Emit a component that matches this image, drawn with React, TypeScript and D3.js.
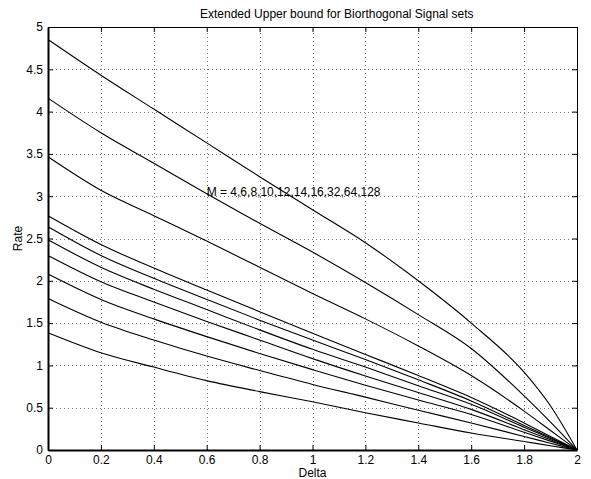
import React, { useEffect, useRef } from "react";
import * as d3 from "d3";

const delta = [0, 0.2, 0.4, 0.6, 0.8, 1.0, 1.2, 1.4, 1.6, 1.8, 1.9, 2.0];

const rateM4 = [1.386, 1.15, 0.98, 0.82, 0.69, 0.57, 0.44, 0.32, 0.2, 0.1, 0.05, 0];
const rateM6 = [1.79, 1.51, 1.3, 1.11, 0.94, 0.775, 0.625, 0.47, 0.32, 0.16, 0.08, 0];
const rateM8 = [2.08, 1.78, 1.55, 1.34, 1.14, 0.95, 0.765, 0.59, 0.42, 0.21, 0.105, 0];
const rateM10 = [2.3, 1.99, 1.75, 1.52, 1.3, 1.08, 0.875, 0.68, 0.48, 0.24, 0.12, 0];
const rateM12 = [2.485, 2.16, 1.9, 1.66, 1.42, 1.19, 0.98, 0.76, 0.54, 0.27, 0.135, 0];
const rateM14 = [2.64, 2.3, 2.03, 1.78, 1.535, 1.3, 1.07, 0.83, 0.58, 0.29, 0.145, 0];
const rateM16 = [2.77, 2.43, 2.15, 1.89, 1.635, 1.38, 1.13, 0.88, 0.62, 0.32, 0.16, 0];
const rateM32 = [3.466, 3.07, 2.77, 2.47, 2.16, 1.85, 1.55, 1.23, 0.88, 0.46, 0.23, 0];
const rateM64 = [4.159, 3.75, 3.39, 3.03, 2.68, 2.34, 1.98, 1.6, 1.2, 0.64, 0.33, 0];
const rateM128 = [4.852, 4.43, 4.03, 3.63, 3.23, 2.84, 2.45, 2.0, 1.5, 0.92, 0.52, 0];

const series = [rateM4, rateM6, rateM8, rateM10, rateM12, rateM14, rateM16, rateM32, rateM64, rateM128];

const xTicks = [0, 0.2, 0.4, 0.6, 0.8, 1, 1.2, 1.4, 1.6, 1.8, 2];
const yTicks = [0, 0.5, 1, 1.5, 2, 2.5, 3, 3.5, 4, 4.5, 5];

const titleText = "Extended Upper bound for Biorthogonal Signal sets";
const noteText = "M = 4,6,8,10,12,14,16,32,64,128";

export default function App() {
  const svgRef = useRef<SVGSVGElement>(null);

  useEffect(() => {
    const width = 591;
    const height = 479;
    const margin = { top: 27, right: 14, bottom: 29, left: 48 };
    const font = "'Liberation Sans', Arial, Helvetica, sans-serif";

    const svg = d3.select(svgRef.current);
    svg.selectAll("*").remove();
    svg.attr("width", width).attr("height", height);

    svg.append("rect").attr("width", width).attr("height", height).attr("fill", "#fff");

    const x = d3.scaleLinear().domain([0, 2]).range([margin.left, width - margin.right]);
    const y = d3.scaleLinear().domain([0, 5]).range([height - margin.bottom, margin.top]);

    // dotted grid
    const grid = svg.append("g").attr("stroke", "#777").attr("stroke-dasharray", "1,3");
    grid
      .selectAll("line.gx")
      .data(xTicks.slice(1, -1))
      .enter()
      .append("line")
      .attr("x1", (d) => Math.round(x(d)) + 0.5)
      .attr("x2", (d) => Math.round(x(d)) + 0.5)
      .attr("y1", y(0))
      .attr("y2", y(5));
    grid
      .selectAll("line.gy")
      .data(yTicks.slice(1, -1))
      .enter()
      .append("line")
      .attr("y1", (d) => Math.round(y(d)) + 0.5)
      .attr("y2", (d) => Math.round(y(d)) + 0.5)
      .attr("x1", x(0))
      .attr("x2", x(2));

    // curves
    const line = d3
      .line<number>()
      .x((d, i) => x(delta[i]))
      .y((d) => y(d))
      .curve(d3.curveMonotoneX);

    svg
      .append("g")
      .selectAll("path")
      .data(series)
      .enter()
      .append("path")
      .attr("d", (d) => line(d))
      .attr("fill", "none")
      .attr("stroke", "#000")
      .attr("stroke-width", 1.1);

    // axes, ticks pointing inward
    const fmt = (d: d3.NumberValue) => String(d);
    const styleAxis = (g: d3.Selection<SVGGElement, unknown, null, undefined>) => {
      g.selectAll("path.domain").attr("stroke", "#000");
      g.selectAll(".tick line").attr("stroke", "#000");
      g.selectAll("text")
        .attr("fill", "#000")
        .style("font-family", font)
        .style("font-size", "12px");
    };

    svg
      .append("g")
      .attr("transform", `translate(0,${y(0)})`)
      .call(d3.axisBottom(x).tickValues(xTicks).tickFormat(fmt).tickSize(-5).tickSizeOuter(0).tickPadding(5))
      .call(styleAxis)
      .select("path.domain")
      .attr("stroke-width", 2);

    svg
      .append("g")
      .attr("transform", `translate(${x(0)},0)`)
      .call(d3.axisLeft(y).tickValues(yTicks).tickFormat(fmt).tickSize(-5).tickSizeOuter(0).tickPadding(5))
      .call(styleAxis)
      .select("path.domain")
      .attr("stroke-width", 2);

    svg
      .append("g")
      .attr("transform", `translate(0,${y(5)})`)
      .call(d3.axisTop(x).tickValues(xTicks).tickFormat(() => "").tickSize(-5).tickSizeOuter(0))
      .call(styleAxis);

    svg
      .append("g")
      .attr("transform", `translate(${x(2)},0)`)
      .call(d3.axisRight(y).tickValues(yTicks).tickFormat(() => "").tickSize(-5).tickSizeOuter(0))
      .call(styleAxis);

    // title and labels
    svg
      .append("text")
      .attr("x", 200)
      .attr("y", 18)
      .style("font-family", font)
      .style("font-size", "12px")
      .text(titleText);

    svg
      .append("text")
      .attr("x", (x(0) + x(2)) / 2)
      .attr("y", 477)
      .attr("text-anchor", "middle")
      .style("font-family", font)
      .style("font-size", "12px")
      .text("Delta");

    svg
      .append("text")
      .attr("transform", `translate(22,${(y(0) + y(5)) / 2}) rotate(-90)`)
      .attr("text-anchor", "middle")
      .style("font-family", font)
      .style("font-size", "12px")
      .text("Rate");

    svg
      .append("text")
      .attr("x", x(0.6))
      .attr("y", y(3.0))
      .style("font-family", font)
      .style("font-size", "12px")
      .text(noteText);
  }, []);

  return (
    <div style={{ position: "absolute", left: 0, top: 0 }}>
      <svg ref={svgRef}></svg>
    </div>
  );
}
